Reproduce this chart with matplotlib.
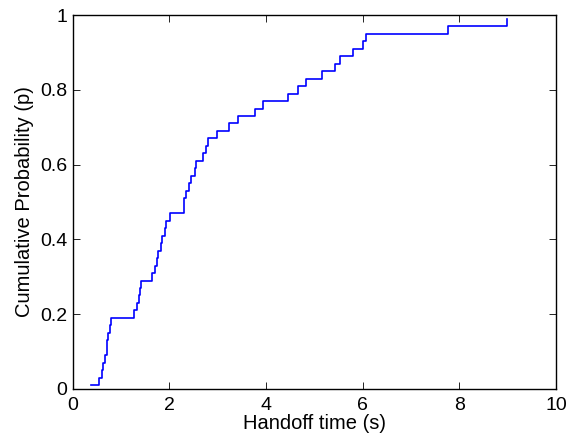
import numpy as np
import matplotlib
matplotlib.use("Agg")
import matplotlib.pyplot as plt

# handoff times (s), sorted, one per sample
handoff_times = [0.37, 0.54, 0.60, 0.63, 0.67, 0.70, 0.71, 0.72, 0.77, 0.79,
                 1.27, 1.33, 1.38, 1.40, 1.41, 1.65, 1.70, 1.74, 1.76, 1.82,
                 1.84, 1.90, 1.94, 2.01, 2.30, 2.31, 2.35, 2.40, 2.45, 2.53,
                 2.55, 2.69, 2.76, 2.80, 2.98, 3.24, 3.41, 3.77, 3.93, 4.46,
                 4.67, 4.83, 5.15, 5.42, 5.53, 5.80, 6.00, 6.07, 7.76, 8.98]
# cumulative probability at each sample
cum_prob = [0.01, 0.03, 0.05, 0.07, 0.09, 0.11, 0.13, 0.15, 0.17, 0.19,
            0.21, 0.23, 0.25, 0.27, 0.29, 0.31, 0.33, 0.35, 0.37, 0.39,
            0.41, 0.43, 0.45, 0.47, 0.49, 0.51, 0.53, 0.55, 0.57, 0.59,
            0.61, 0.63, 0.65, 0.67, 0.69, 0.71, 0.73, 0.75, 0.77, 0.79,
            0.81, 0.83, 0.85, 0.87, 0.89, 0.91, 0.93, 0.95, 0.97, 0.99]
x_ticks = [0, 2, 4, 6, 8, 10]
y_ticks = [0, 0.2, 0.4, 0.6, 0.8, 1]
y_tick_labels = ["0", "0.2", "0.4", "0.6", "0.8", "1"]

plt.rcParams["font.family"] = ["Liberation Sans", "DejaVu Sans"]

fig = plt.figure(figsize=(5.68, 4.43), dpi=100)
ax = fig.add_axes([0.128, 0.122, 0.851, 0.844])
ax.step(handoff_times, cum_prob, where="post", color="blue", linewidth=1.2)

ax.set_xlim(0, 10)
ax.set_ylim(0, 1)
ax.set_xticks(x_ticks)
ax.set_yticks(y_ticks)
ax.set_yticklabels(y_tick_labels)
ax.tick_params(direction="in", top=True, right=True, length=5, width=0.6,
               labelsize=14)
ax.tick_params(axis="x", pad=6)
ax.tick_params(axis="y", pad=4)
for sp in ax.spines.values():
    sp.set_linewidth(1.0)

ax.set_xlabel("Handoff time (s)", fontsize=14.5, labelpad=0)
ax.set_ylabel("Cumulative Probability (p)", fontsize=14.5, labelpad=4)

fig.savefig("out.png", dpi=100)
